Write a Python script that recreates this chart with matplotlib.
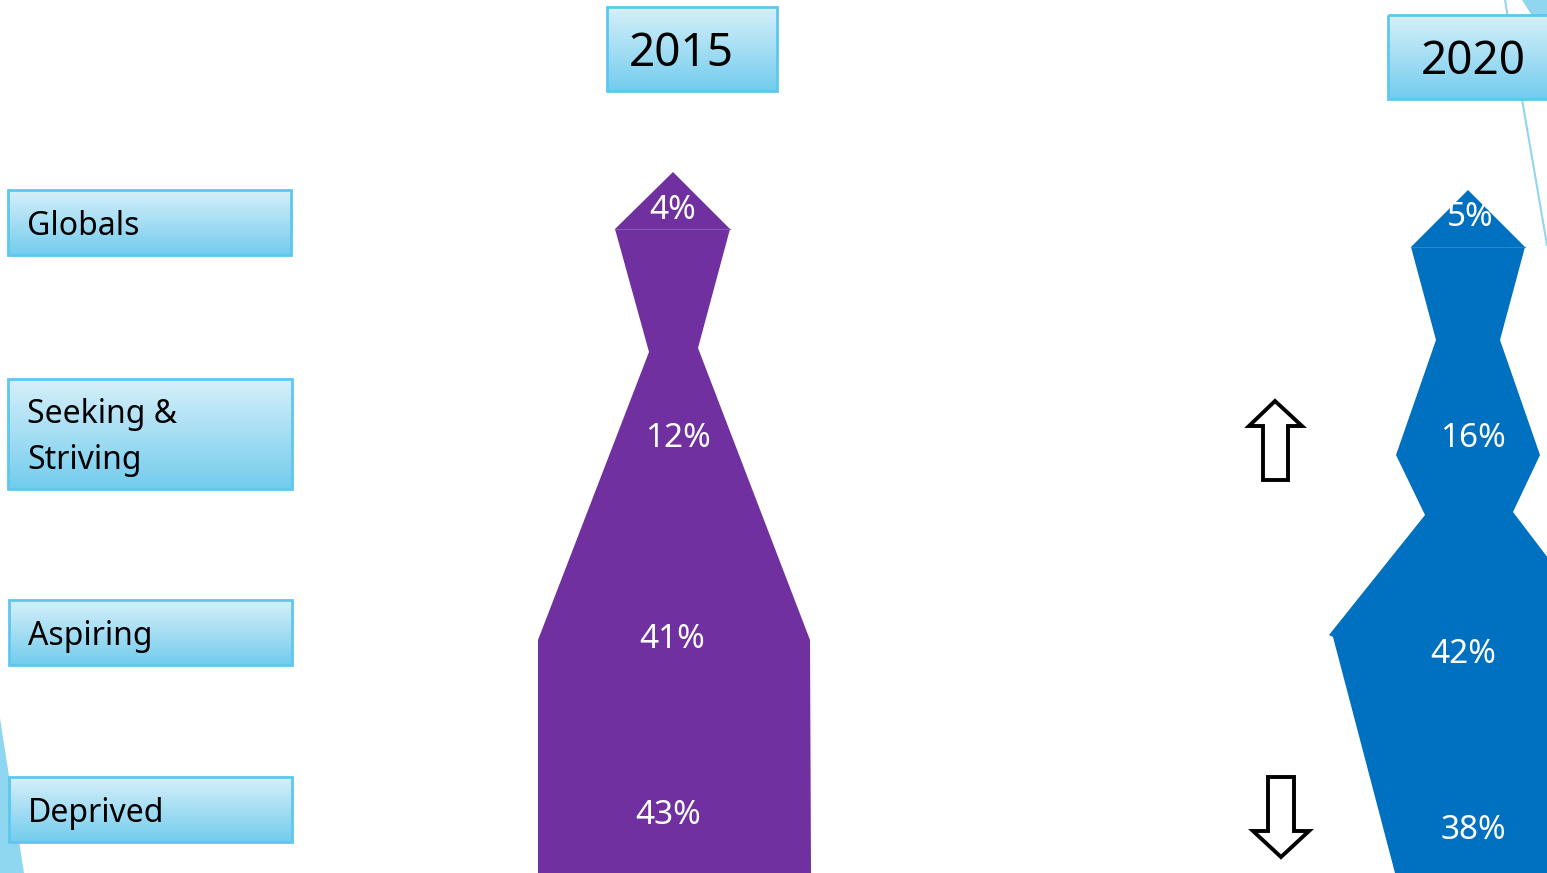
import numpy as np
import matplotlib.pyplot as plt
from matplotlib.patches import Polygon, Rectangle

# --- DATA ---
segments = ["Globals", "Seeking &\nStriving", "Aspiring", "Deprived"]
years = ["2015", "2020"]
share_2015 = [4, 12, 41, 43]
share_2020 = [5, 16, 42, 38]

# --- LAYOUT (pixel space of the slide) ---
W, H = 1547, 873
PURPLE = "#7030a0"
BLUE = "#0070c0"
EDGE = "#5cc8ef"
DECO = "#8fd6f0"

seg_boxes = [(8, 190, 291, 255), (8, 379, 292, 489), (9, 600, 292, 665), (9, 777, 292, 842)]
seg_baselines = [[235], [423, 469], [645], [822]]
year_boxes = [(607, 7, 777, 91), (1388, 15, 1560, 99)]
year_text = [(681, 66), (1473, 74)]

shape_2015 = [(673, 172), (730, 229), (698, 348), (810, 640), (811, 873),
              (538, 873), (538, 640), (649, 352), (615, 229)]
shape_2020 = [(1468, 190), (1525, 247), (1500, 340), (1540, 455), (1513, 512),
              (1580, 600), (1580, 873), (1395, 873), (1333, 637), (1329, 635),
              (1425, 515), (1396, 455), (1436, 340), (1411, 247)]
label_pos_2015 = [(673, 219), (678, 447), (672, 648), (668, 824)]
label_pos_2020 = [(1470, 226), (1473, 447), (1463, 663), (1473, 839)]

up_arrow = [(1275, 401), (1302, 426), (1288, 426), (1288, 480), (1263, 480),
            (1263, 426), (1249, 426)]
down_arrow = [(1268, 777), (1294, 777), (1294, 831), (1309, 831), (1281, 857),
              (1253, 831), (1268, 831)]

plt.rcParams['font.family'] = ['Noto Sans', 'DejaVu Sans']

fig = plt.figure(figsize=(W / 100, H / 100), dpi=100)
ax = fig.add_axes([0, 0, 1, 1])
ax.set_axis_off()

# gradient used in all the label boxes
grad = np.linspace(0, 1, 100)[:, None]
top_c = np.array([0.84, 0.94, 0.98])
bot_c = np.array([0.45, 0.80, 0.93])
grad_img = top_c + grad[..., None] * (bot_c - top_c)
grad_img = np.repeat(grad_img, 2, axis=1)


def gradient_box(x0, y0, x1, y1):
    ax.imshow(grad_img, extent=(x0, x1, y1, y0), origin='upper', aspect='auto',
              interpolation='bilinear', zorder=3)
    ax.add_patch(Rectangle((x0, y0), x1 - x0, y1 - y0, fill=False,
                           edgecolor=EDGE, lw=2, zorder=4))


# decorative slide shapes
ax.add_patch(Polygon([(0, 718), (24, 873), (0, 873)], closed=True, color=DECO, lw=0, zorder=1))
ax.add_patch(Polygon([(1522, 0), (1560, 0), (1560, 60)], closed=True, color=DECO, lw=0, zorder=1))
ax.plot([1505, 1547], [0, 245], color=DECO, lw=1.5, zorder=1)

# segment labels
for (x0, y0, x1, y1), name, bases in zip(seg_boxes, segments, seg_baselines):
    gradient_box(x0, y0, x1, y1)
    for line, yb in zip(name.split("\n"), bases):
        ax.text(x0 + 19, yb, line, fontsize=23, color="black", ha='left', va='baseline', zorder=5)

# year labels
for (x0, y0, x1, y1), yr, (tx, ty) in zip(year_boxes, years, year_text):
    gradient_box(x0, y0, x1, y1)
    ax.text(tx, ty, yr, fontsize=33, color="black", ha='center', va='baseline', zorder=5)

# the two profile shapes
ax.add_patch(Polygon(shape_2015, closed=True, color=PURPLE, lw=0, zorder=2))
ax.add_patch(Polygon(shape_2020, closed=True, color=BLUE, lw=0, zorder=2))
ax.plot([615, 730], [229, 229], color="#8a55b5", lw=0.8, zorder=2)
ax.plot([1411, 1525], [247, 247], color="#2a86cc", lw=0.8, zorder=2)

for v, (x, y) in zip(share_2015, label_pos_2015):
    ax.text(x, y, f"{v}%", fontsize=24, color="white", ha='center', va='baseline', zorder=5)
for v, (x, y) in zip(share_2020, label_pos_2020):
    ax.text(x, y, f"{v}%", fontsize=24, color="white", ha='center', va='baseline', zorder=5)

# change arrows
ax.add_patch(Polygon(up_arrow, closed=True, facecolor="white", edgecolor="black", lw=2.8, zorder=3))
ax.add_patch(Polygon(down_arrow, closed=True, facecolor="white", edgecolor="black", lw=2.8, zorder=3))

ax.set_xlim(0, W)
ax.set_ylim(H, 0)

fig.savefig("out.png", dpi=100)
